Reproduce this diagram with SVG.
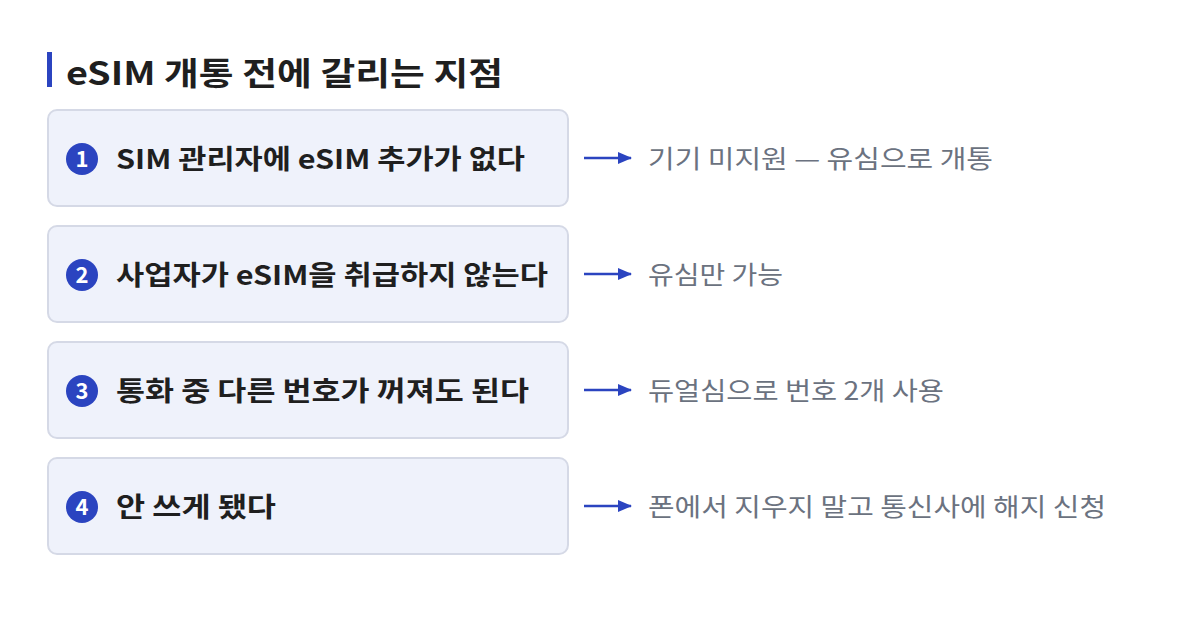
<svg xmlns="http://www.w3.org/2000/svg" width="1200" height="622" viewBox="0 0 1200 622">
<style>
text{font-family:"Noto Sans CJK KR","Noto Sans",sans-serif}
.box{fill:#eff2fb;stroke:#d5d9e6;stroke-width:2}
.num{fill:#2b44c0}
.nt{fill:#fff;font-size:22px;font-weight:700;text-anchor:middle}
.lbl{fill:#1f1f1f;font-size:27px;font-weight:700}
.note{fill:#6b7280;font-size:25px}
</style>
<defs><marker id="ah2" markerWidth="14" markerHeight="12" refX="13" refY="6" orient="auto" markerUnits="userSpaceOnUse"><path d="M0,0L14,6L0,12z" fill="#2b44c0"/></marker></defs>
<rect width="1200" height="622" fill="#fff"/>
<g id="title"><rect x="47" y="52" width="5" height="35" fill="#2b44c0"/><text x="66" y="85" font-size="32" font-weight="700" fill="#1f1f1f" textLength="437" lengthAdjust="spacingAndGlyphs">eSIM 개통 전에 갈리는 지점</text></g>
<g id="n1"><rect class="box" x="48" y="110" width="520" height="96" rx="9"/><circle class="num" cx="82" cy="159" r="16"/><text class="nt" x="82" y="167">1</text><text class="lbl" x="116" y="169" textLength="409" lengthAdjust="spacingAndGlyphs">SIM 관리자에 eSIM 추가가 없다</text><text class="note" x="648" y="168" textLength="345" lengthAdjust="spacingAndGlyphs">기기 미지원 — 유심으로 개통</text></g>
<g id="n2"><rect class="box" x="48" y="226" width="520" height="96" rx="9"/><circle class="num" cx="82" cy="275" r="16"/><text class="nt" x="82" y="283">2</text><text class="lbl" x="116" y="285" textLength="432" lengthAdjust="spacingAndGlyphs">사업자가 eSIM을 취급하지 않는다</text><text class="note" x="648" y="284" textLength="135" lengthAdjust="spacingAndGlyphs">유심만 가능</text></g>
<g id="n3"><rect class="box" x="48" y="342" width="520" height="96" rx="9"/><circle class="num" cx="82" cy="391" r="16"/><text class="nt" x="82" y="399">3</text><text class="lbl" x="116" y="401" textLength="413" lengthAdjust="spacingAndGlyphs">통화 중 다른 번호가 꺼져도 된다</text><text class="note" x="648" y="400" textLength="296" lengthAdjust="spacingAndGlyphs">듀얼심으로 번호 2개 사용</text></g>
<g id="n4"><rect class="box" x="48" y="458" width="520" height="96" rx="9"/><circle class="num" cx="82" cy="507" r="16"/><text class="nt" x="82" y="515">4</text><text class="lbl" x="116" y="517" textLength="160" lengthAdjust="spacingAndGlyphs">안 쓰게 됐다</text><text class="note" x="648" y="516" textLength="458" lengthAdjust="spacingAndGlyphs">폰에서 지우지 말고 통신사에 해지 신청</text></g>
<g id="connectors">
<path d="M584 158H631" stroke="#2b44c0" stroke-width="2.5" marker-end="url(#ah2)"/>
<path d="M584 274H631" stroke="#2b44c0" stroke-width="2.5" marker-end="url(#ah2)"/>
<path d="M584 390H631" stroke="#2b44c0" stroke-width="2.5" marker-end="url(#ah2)"/>
<path d="M584 506H631" stroke="#2b44c0" stroke-width="2.5" marker-end="url(#ah2)"/>
</g>
</svg>
